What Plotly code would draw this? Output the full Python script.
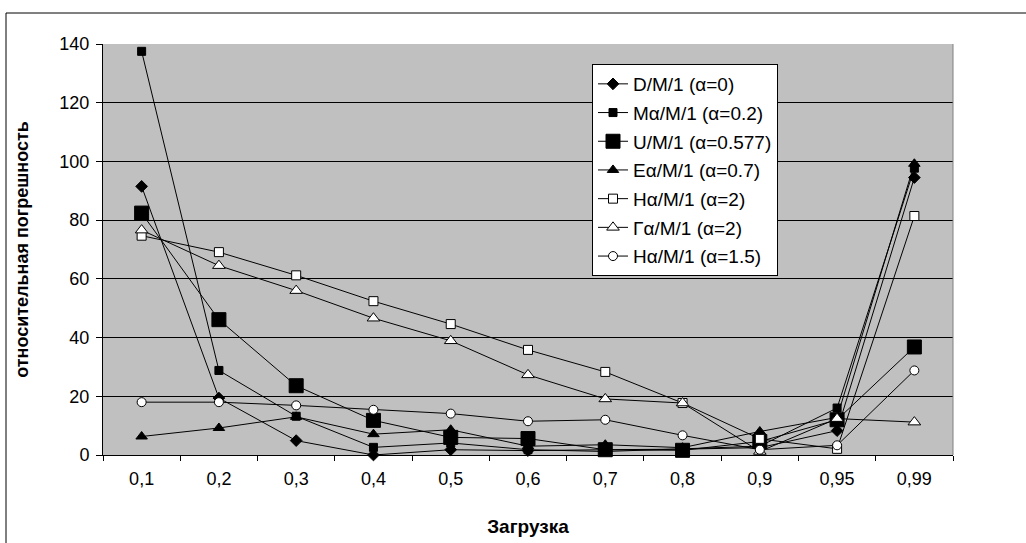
import plotly.graph_objects as go

categories = ["0,1", "0,2", "0,3", "0,4", "0,5", "0,6", "0,7", "0,8", "0,9", "0,95", "0,99"]

d_m1 = [91.5, 19.4, 4.9, 0.0, 1.8, 1.5, 1.8, 2.0, 2.5, 8.3, 94.5]
m_m1 = [137.5, 28.8, 13.2, 2.6, 4.1, 1.8, 1.2, 2.2, 3.0, 16.0, 97.7]
u_m1 = [82.4, 46.1, 23.6, 11.8, 6.0, 5.6, 1.8, 1.6, 4.6, 12.0, 36.8]
e_m1 = [6.3, 9.2, 13.0, 7.1, 8.6, 3.0, 3.5, 2.5, 8.0, 12.8, 99.2]
h2_m1 = [74.7, 69.1, 61.2, 52.4, 44.6, 35.8, 28.3, 17.7, 5.5, 2.1, 81.4]
g_m1 = [76.6, 64.5, 56.0, 46.6, 38.9, 27.3, 19.1, 17.7, 1.2, 12.4, 11.2]
h15_m1 = [18.0, 18.0, 16.9, 15.4, 14.1, 11.5, 12.0, 6.7, 1.8, 3.3, 28.8]

series_names = ["D/M/1 (α=0)", "Mα/M/1 (α=0.2)", "U/M/1 (α=0.577)", "Eα/M/1 (α=0.7)",
                "Hα/M/1 (α=2)", "Γα/M/1 (α=2)", "Hα/M/1 (α=1.5)"]
series_values = [d_m1, m_m1, u_m1, e_m1, h2_m1, g_m1, h15_m1]
y_ticks = [0, 20, 40, 60, 80, 100, 120, 140]

styles = [
    dict(symbol="diamond", size=9, color="black"),
    dict(symbol="square", size=8, color="black"),
    dict(symbol="square", size=14, color="black"),
    dict(symbol="triangle-up", size=10, color="black"),
    dict(symbol="square", size=9, color="white"),
    dict(symbol="triangle-up", size=11, color="white"),
    dict(symbol="circle", size=9, color="white"),
]

fig = go.Figure()
for i, (name, vals, st) in enumerate(zip(series_names, series_values, styles)):
    fig.add_trace(go.Scatter(
        x=categories, y=vals, name=name, mode="lines+markers",
        line=dict(color="black", width=1),
        marker=dict(symbol=st["symbol"], size=st["size"], color=st["color"],
                    line=dict(color="black", width=1)),
        legendgroup=f"g{i}", cliponaxis=False,
    ))

L, R, T, B = 103, 953, 44, 455
W, H = 1026, 543
pw, ph = R - L, B - T

def px_x(x):
    return (x - L) / pw

def px_y(y):
    return (B - y) / ph

font_family = "Liberation Sans, Arial, sans-serif"

fig.update_layout(
    width=W, height=H,
    margin=dict(l=L, r=W - R, t=T, b=H - B, pad=0, autoexpand=False),
    paper_bgcolor="white",
    plot_bgcolor="#C0C0C0",
    font=dict(family=font_family, size=18, color="black"),
    showlegend=True,
    legend=dict(
        x=px_x(592), y=px_y(64), xanchor="left", yanchor="top",
        bgcolor="white", bordercolor="black", borderwidth=1,
        font=dict(size=19, family=font_family),
        tracegroupgap=1, itemwidth=30,
    ),
    xaxis=dict(
        type="category", categoryorder="array", categoryarray=categories,
        showgrid=False, showline=True, linecolor="black", linewidth=1,
        ticks="outside", tickson="boundaries", ticklen=5, tickcolor="black",
        tickfont=dict(size=18), zeroline=False, ticklabelstandoff=7, automargin=False,
        title=dict(text="<b>Загрузка</b>", font=dict(size=19), standoff=32),
        range=[-0.5, len(categories) - 0.5],
    ),
    yaxis=dict(
        range=[0, 140], tickvals=y_ticks, showgrid=True, gridcolor="black", gridwidth=1,
        showline=True, linecolor="black", linewidth=1, zeroline=False,
        ticks="outside", ticklen=6, tickcolor="black", tickfont=dict(size=18),
        ticklabelstandoff=3, automargin=False,
        title=dict(text="<b>относительная погрешность</b>", font=dict(size=18), standoff=26),
    ),
    shapes=[
        dict(type="rect", xref="paper", yref="paper",
             x0=px_x(6), x1=px_x(1040), y0=px_y(560), y1=px_y(13),
             line=dict(color="black", width=1), fillcolor="rgba(0,0,0,0)", layer="below"),
        dict(type="line", xref="paper", yref="paper", x0=1, x1=1, y0=0, y1=1,
             line=dict(color="#808080", width=1)),
    ],
)

fig.write_html("out.html")
